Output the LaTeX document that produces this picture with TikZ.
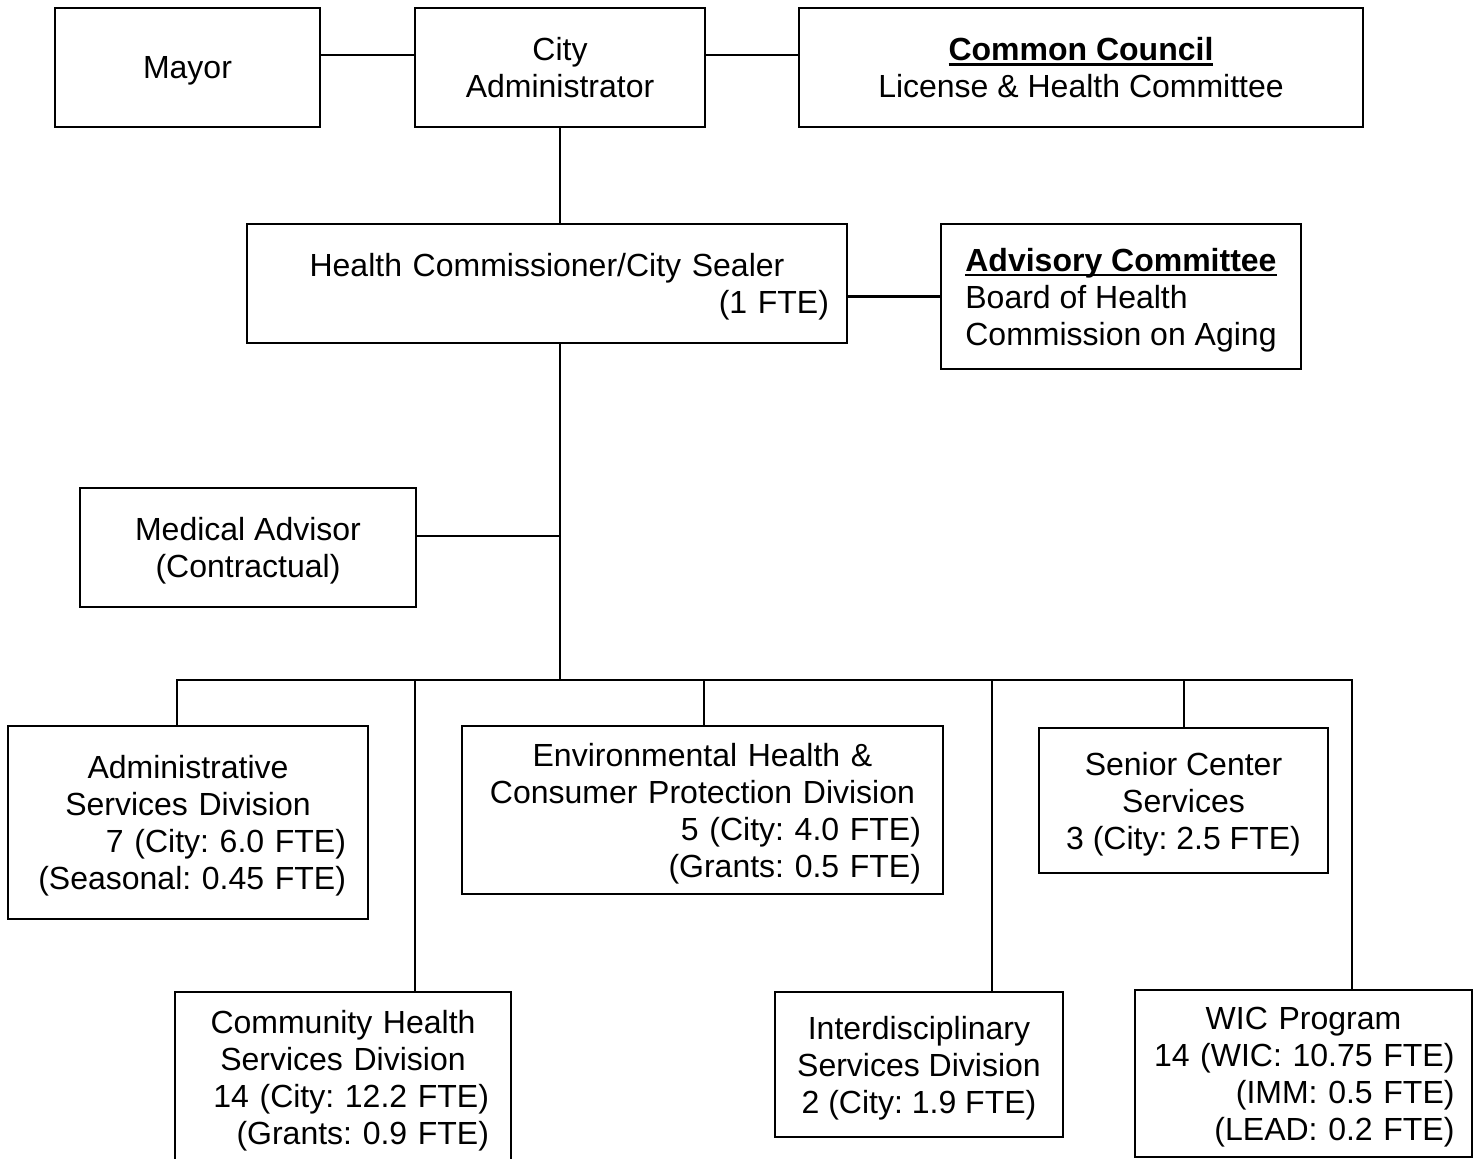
\documentclass[tikz,border=0pt]{standalone}
\usepackage{fontspec}
\setmainfont{Liberation Sans}
\frenchspacing
\newcommand{\ulbold}[1]{\setbox0\hbox{\textbf{#1}}\rlap{\rule[-2.6pt]{\wd0}{1.3pt}}\box0}
\newcommand{\boxend}{\par\vspace*{-3.4pt}}
\begin{document}
\begin{tikzpicture}[x=0.5pt, y=-0.5pt,
    box/.style={draw=black, line width=1.1pt, inner sep=0pt, align=center,
                font=\fontsize{16}{18.5}\selectfont},
    plain/.style={box, text depth=0pt},
    ragged/.style={box, text width=#1, execute at end node=\boxend},
    link/.style={draw=black, line width=1.1pt, line cap=rect}]
  \useasboundingbox (0,0) rectangle (1484,1159);

  % top row
  \node[plain, minimum width=132.5pt, minimum height=59.5pt] (mayor) at (187.5,67.5) {Mayor};
  \node[plain, minimum width=145pt, minimum height=59.5pt] (admin) at (560,67.5) {City\\Administrator};
  \node[plain, minimum width=282pt, minimum height=59.5pt] (council) at (1081,67.5)
    {\ulbold{Common Council}\\License \& Health Committee};

  % commissioner and advisors
  \node[ragged=282pt, minimum width=300pt, minimum height=59.5pt] (hc) at (547,283.5)
    {Health Commissioner/City Sealer\\\hspace*{\fill}(1 FTE)};
  \node[plain, minimum width=180pt, minimum height=72.5pt, align=left] (board) at (1121,296.5)
    {\ulbold{Advisory Committee}\\Board of Health\\Commission on Aging};
  \node[plain, minimum width=168pt, minimum height=59.5pt] (medical) at (248,547.5)
    {Medical Advisor\\(Contractual)};

  % divisions
  \node[ragged=158pt, minimum width=180pt, minimum height=96.5pt] (asd) at (188,822.5)
    {Administrative\\Services Division\\\hspace*{\fill}7 (City: 6.0 FTE)\\\hspace*{\fill}(Seasonal: 0.45 FTE)};
  \node[ragged=146pt, minimum width=168pt, minimum height=85pt] (chs) at (343,1077)
    {Community Health\\Services Division\\\hspace*{\fill}14 (City: 12.2 FTE)\\\hspace*{\fill}(Grants: 0.9 FTE)};
  \node[ragged=218.5pt, minimum width=240.5pt, minimum height=84pt] (ehc) at (702.5,810)
    {Environmental Health \&\\Consumer Protection Division\\\hspace*{\fill}5 (City: 4.0 FTE)\\\hspace*{\fill}(Grants: 0.5 FTE)};
  \node[plain, minimum width=144pt, minimum height=72.5pt] (isd) at (919,1064.5)
    {Interdisciplinary\\Services Division\\2 (City: 1.9 FTE)};
  \node[plain, minimum width=144.5pt, minimum height=72.5pt] (scs) at (1183.5,800.5)
    {Senior Center\\Services\\3 (City: 2.5 FTE)};
  \node[ragged=151pt, minimum width=168.5pt, minimum height=83.5pt] (wic) at (1303.5,1073.5)
    {WIC Program\\\hspace*{\fill}14 (WIC: 10.75 FTE)\\\hspace*{\fill}(IMM: 0.5 FTE)\\\hspace*{\fill}(LEAD: 0.2 FTE)};

  % connectors
  \draw[link] ([yshift=6.25pt]mayor.east) -- ([yshift=6.25pt]admin.west);
  \draw[link] ([yshift=6.25pt]admin.east) -- ([yshift=6.25pt]council.west);
  \draw[link] (admin.south) -- (admin.south |- hc.north);
  \draw[link] (board.west) -- (board.west -| hc.east);

  \coordinate (bus) at (560,680);
  \draw[link] (admin.south |- hc.south) -- (bus);
  \draw[link] ([yshift=5.75pt]medical.east) -- ([yshift=5.75pt]medical.east -| bus);

  \foreach \xd/\unit in {177/asd, 415/chs, 704/ehc, 992/isd, 1184/scs, 1352/wic}{
    \coordinate (d-\unit) at (\xd,680);
    \draw[link] (d-\unit) -- (d-\unit |- \unit.north);
  }
  \draw[link] (d-asd) -- (d-wic);
\end{tikzpicture}
\end{document}
